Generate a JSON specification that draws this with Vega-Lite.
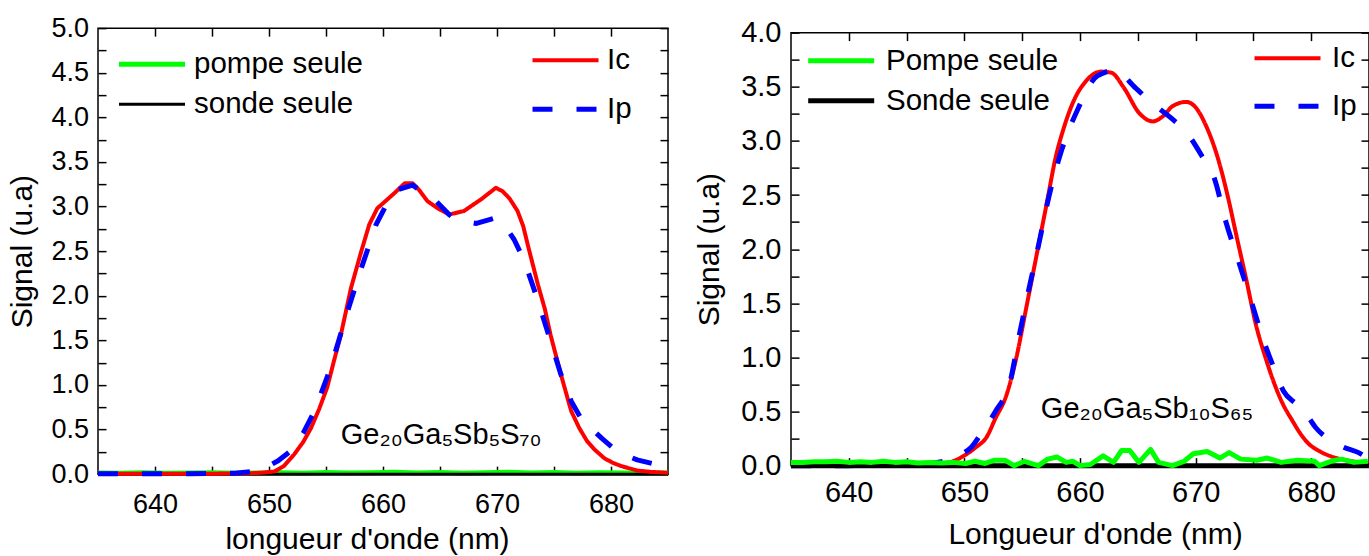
{
  "$schema": "https://vega.github.io/schema/vega-lite/v6.json",
  "background": "white",
  "padding": {"left": 7, "top": 13, "right": 5, "bottom": 0},
  "spacing": 21,
  "center": true,
  "config": {
    "font": "Liberation Sans",
    "view": {"stroke": "black", "strokeWidth": 1.5},
    "axis": {"grid": false, "domain": false, "tickColor": "black", "tickWidth": 1.5, "labelColor": "black", "titleColor": "black", "labelFont": "Liberation Sans", "titleFont": "Liberation Sans", "titleFontWeight": "normal"},
    "legend": {"padding": 0, "labelFont": "Liberation Sans", "labelColor": "black", "titlePadding": 0, "labelLimit": 400}
  },
  "datasets": {
    "L1": [
      {"wl": 635, "sig": 0.012, "serie": "pompe seule"}, {"wl": 637, "sig": 0.01, "serie": "pompe seule"}, {"wl": 639, "sig": 0.015, "serie": "pompe seule"}, {"wl": 641, "sig": 0.01, "serie": "pompe seule"}, {"wl": 643, "sig": 0.012, "serie": "pompe seule"}, {"wl": 645, "sig": 0.015, "serie": "pompe seule"}, {"wl": 647, "sig": 0.01, "serie": "pompe seule"}, {"wl": 649, "sig": 0.012, "serie": "pompe seule"}, {"wl": 651, "sig": 0.015, "serie": "pompe seule"}, {"wl": 653, "sig": 0.01, "serie": "pompe seule"}, {"wl": 655, "sig": 0.018, "serie": "pompe seule"}, {"wl": 657, "sig": 0.012, "serie": "pompe seule"}, {"wl": 659, "sig": 0.015, "serie": "pompe seule"}, {"wl": 661, "sig": 0.02, "serie": "pompe seule"}, {"wl": 663, "sig": 0.012, "serie": "pompe seule"}, {"wl": 665, "sig": 0.018, "serie": "pompe seule"}, {"wl": 667, "sig": 0.01, "serie": "pompe seule"}, {"wl": 669, "sig": 0.015, "serie": "pompe seule"}, {"wl": 671, "sig": 0.02, "serie": "pompe seule"}, {"wl": 673, "sig": 0.012, "serie": "pompe seule"}, {"wl": 675, "sig": 0.018, "serie": "pompe seule"}, {"wl": 677, "sig": 0.01, "serie": "pompe seule"}, {"wl": 679, "sig": 0.015, "serie": "pompe seule"}, {"wl": 681, "sig": 0.012, "serie": "pompe seule"}, {"wl": 683, "sig": 0.01, "serie": "pompe seule"}, {"wl": 685, "sig": 0.012, "serie": "pompe seule"},
      {"wl": 635, "sig": 0, "serie": "sonde seule"}, {"wl": 660, "sig": 0, "serie": "sonde seule"}, {"wl": 685, "sig": 0, "serie": "sonde seule"}
    ],
    "L2": [
      {"wl": 635, "sig": 0.005, "serie": "Ic"}, {"wl": 640, "sig": 0.005, "serie": "Ic"}, {"wl": 645, "sig": 0.005, "serie": "Ic"}, {"wl": 648, "sig": 0.008, "serie": "Ic"}, {"wl": 649.3, "sig": 0.015, "serie": "Ic"}, {"wl": 650.5, "sig": 0.03, "serie": "Ic"}, {"wl": 651.3, "sig": 0.09, "serie": "Ic"}, {"wl": 652.2, "sig": 0.22, "serie": "Ic"}, {"wl": 653.0, "sig": 0.36, "serie": "Ic"}, {"wl": 653.7, "sig": 0.52, "serie": "Ic"}, {"wl": 654.4, "sig": 0.73, "serie": "Ic"}, {"wl": 655.1, "sig": 0.97, "serie": "Ic"}, {"wl": 655.7, "sig": 1.27, "serie": "Ic"}, {"wl": 656.3, "sig": 1.56, "serie": "Ic"}, {"wl": 657.2, "sig": 2.09, "serie": "Ic"}, {"wl": 658.1, "sig": 2.5, "serie": "Ic"}, {"wl": 658.8, "sig": 2.8, "serie": "Ic"}, {"wl": 659.5, "sig": 2.98, "serie": "Ic"}, {"wl": 660.3, "sig": 3.07, "serie": "Ic"}, {"wl": 661.0, "sig": 3.15, "serie": "Ic"}, {"wl": 661.9, "sig": 3.26, "serie": "Ic"}, {"wl": 662.6, "sig": 3.26, "serie": "Ic"}, {"wl": 663.2, "sig": 3.18, "serie": "Ic"}, {"wl": 663.9, "sig": 3.06, "serie": "Ic"}, {"wl": 664.8, "sig": 2.98, "serie": "Ic"}, {"wl": 665.8, "sig": 2.91, "serie": "Ic"}, {"wl": 667.1, "sig": 2.95, "serie": "Ic"}, {"wl": 667.9, "sig": 3.02, "serie": "Ic"}, {"wl": 668.6, "sig": 3.08, "serie": "Ic"}, {"wl": 669.3, "sig": 3.15, "serie": "Ic"}, {"wl": 669.9, "sig": 3.21, "serie": "Ic"}, {"wl": 670.5, "sig": 3.17, "serie": "Ic"}, {"wl": 671.1, "sig": 3.09, "serie": "Ic"}, {"wl": 671.8, "sig": 2.95, "serie": "Ic"}, {"wl": 672.3, "sig": 2.78, "serie": "Ic"}, {"wl": 672.7, "sig": 2.57, "serie": "Ic"}, {"wl": 673.6, "sig": 2.12, "serie": "Ic"}, {"wl": 674.2, "sig": 1.85, "serie": "Ic"}, {"wl": 674.7, "sig": 1.56, "serie": "Ic"}, {"wl": 675.6, "sig": 1.12, "serie": "Ic"}, {"wl": 676.5, "sig": 0.71, "serie": "Ic"}, {"wl": 677.2, "sig": 0.52, "serie": "Ic"}, {"wl": 677.9, "sig": 0.37, "serie": "Ic"}, {"wl": 678.6, "sig": 0.27, "serie": "Ic"}, {"wl": 679.4, "sig": 0.18, "serie": "Ic"}, {"wl": 680.1, "sig": 0.13, "serie": "Ic"}, {"wl": 680.9, "sig": 0.09, "serie": "Ic"}, {"wl": 682.3, "sig": 0.04, "serie": "Ic"}, {"wl": 683.5, "sig": 0.025, "serie": "Ic"}, {"wl": 685, "sig": 0.015, "serie": "Ic"},
      {"wl": 635, "sig": 0.005, "serie": "Ip"}, {"wl": 643, "sig": 0.005, "serie": "Ip"}, {"wl": 647, "sig": 0.01, "serie": "Ip"}, {"wl": 648.5, "sig": 0.03, "serie": "Ip"}, {"wl": 649.8, "sig": 0.08, "serie": "Ip"}, {"wl": 650.8, "sig": 0.15, "serie": "Ip"}, {"wl": 652.1, "sig": 0.28, "serie": "Ip"}, {"wl": 653.0, "sig": 0.46, "serie": "Ip"}, {"wl": 654.0, "sig": 0.71, "serie": "Ip"}, {"wl": 655.4, "sig": 1.19, "serie": "Ip"}, {"wl": 656.8, "sig": 1.79, "serie": "Ip"}, {"wl": 658.1, "sig": 2.31, "serie": "Ip"}, {"wl": 659.4, "sig": 2.8, "serie": "Ip"}, {"wl": 660.3, "sig": 3.02, "serie": "Ip"}, {"wl": 661.3, "sig": 3.19, "serie": "Ip"}, {"wl": 662.6, "sig": 3.24, "serie": "Ip"}, {"wl": 663.5, "sig": 3.16, "serie": "Ip"}, {"wl": 664.5, "sig": 3.08, "serie": "Ip"}, {"wl": 665.8, "sig": 2.91, "serie": "Ip"}, {"wl": 666.5, "sig": 2.85, "serie": "Ip"}, {"wl": 668.2, "sig": 2.81, "serie": "Ip"}, {"wl": 669.8, "sig": 2.87, "serie": "Ip"}, {"wl": 670.7, "sig": 2.78, "serie": "Ip"}, {"wl": 671.5, "sig": 2.63, "serie": "Ip"}, {"wl": 672.4, "sig": 2.39, "serie": "Ip"}, {"wl": 673.6, "sig": 1.94, "serie": "Ip"}, {"wl": 674.7, "sig": 1.49, "serie": "Ip"}, {"wl": 675.6, "sig": 1.12, "serie": "Ip"}, {"wl": 676.5, "sig": 0.82, "serie": "Ip"}, {"wl": 677.3, "sig": 0.64, "serie": "Ip"}, {"wl": 678.2, "sig": 0.52, "serie": "Ip"}, {"wl": 679.2, "sig": 0.4, "serie": "Ip"}, {"wl": 680.2, "sig": 0.29, "serie": "Ip"}, {"wl": 681.3, "sig": 0.21, "serie": "Ip"}, {"wl": 682.3, "sig": 0.16, "serie": "Ip"}, {"wl": 683.6, "sig": 0.12, "serie": "Ip"}, {"wl": 685, "sig": 0.08, "serie": "Ip"}
    ],
    "R1": [
      {"wl": 635, "sig": 0, "serie": "Sonde seule"}, {"wl": 660, "sig": 0, "serie": "Sonde seule"}, {"wl": 685, "sig": 0, "serie": "Sonde seule"},
      {"wl": 635, "sig": 0.03, "serie": "Pompe seule"}, {"wl": 636, "sig": 0.03, "serie": "Pompe seule"}, {"wl": 637, "sig": 0.035, "serie": "Pompe seule"}, {"wl": 638, "sig": 0.035, "serie": "Pompe seule"}, {"wl": 639, "sig": 0.04, "serie": "Pompe seule"}, {"wl": 640, "sig": 0.03, "serie": "Pompe seule"}, {"wl": 641, "sig": 0.035, "serie": "Pompe seule"}, {"wl": 642, "sig": 0.03, "serie": "Pompe seule"}, {"wl": 643, "sig": 0.04, "serie": "Pompe seule"}, {"wl": 644, "sig": 0.03, "serie": "Pompe seule"}, {"wl": 645, "sig": 0.035, "serie": "Pompe seule"}, {"wl": 646, "sig": 0.025, "serie": "Pompe seule"}, {"wl": 647, "sig": 0.03, "serie": "Pompe seule"}, {"wl": 648, "sig": 0.025, "serie": "Pompe seule"}, {"wl": 649, "sig": 0.03, "serie": "Pompe seule"}, {"wl": 650.1, "sig": 0.02, "serie": "Pompe seule"}, {"wl": 650.9, "sig": 0.04, "serie": "Pompe seule"}, {"wl": 651.8, "sig": 0.02, "serie": "Pompe seule"}, {"wl": 652.6, "sig": 0.05, "serie": "Pompe seule"}, {"wl": 653.5, "sig": 0.05, "serie": "Pompe seule"}, {"wl": 654.3, "sig": 0.0, "serie": "Pompe seule"}, {"wl": 655.2, "sig": 0.04, "serie": "Pompe seule"}, {"wl": 656.1, "sig": 0.01, "serie": "Pompe seule"}, {"wl": 656.4, "sig": 0.0, "serie": "Pompe seule"}, {"wl": 657.2, "sig": 0.06, "serie": "Pompe seule"}, {"wl": 658.0, "sig": 0.08, "serie": "Pompe seule"}, {"wl": 658.8, "sig": 0.03, "serie": "Pompe seule"}, {"wl": 659.4, "sig": 0.04, "serie": "Pompe seule"}, {"wl": 660.0, "sig": 0.0, "serie": "Pompe seule"}, {"wl": 660.9, "sig": 0.01, "serie": "Pompe seule"}, {"wl": 662.0, "sig": 0.09, "serie": "Pompe seule"}, {"wl": 662.9, "sig": 0.03, "serie": "Pompe seule"}, {"wl": 663.6, "sig": 0.14, "serie": "Pompe seule"}, {"wl": 664.3, "sig": 0.14, "serie": "Pompe seule"}, {"wl": 665.1, "sig": 0.03, "serie": "Pompe seule"}, {"wl": 666.1, "sig": 0.15, "serie": "Pompe seule"}, {"wl": 666.8, "sig": 0.03, "serie": "Pompe seule"}, {"wl": 668.0, "sig": 0.0, "serie": "Pompe seule"}, {"wl": 669.0, "sig": 0.04, "serie": "Pompe seule"}, {"wl": 669.8, "sig": 0.11, "serie": "Pompe seule"}, {"wl": 671.0, "sig": 0.13, "serie": "Pompe seule"}, {"wl": 672.1, "sig": 0.07, "serie": "Pompe seule"}, {"wl": 672.9, "sig": 0.12, "serie": "Pompe seule"}, {"wl": 673.9, "sig": 0.06, "serie": "Pompe seule"}, {"wl": 675.3, "sig": 0.05, "serie": "Pompe seule"}, {"wl": 676.2, "sig": 0.07, "serie": "Pompe seule"}, {"wl": 677.4, "sig": 0.03, "serie": "Pompe seule"}, {"wl": 678.8, "sig": 0.05, "serie": "Pompe seule"}, {"wl": 680.3, "sig": 0.04, "serie": "Pompe seule"}, {"wl": 680.7, "sig": 0.0, "serie": "Pompe seule"}, {"wl": 681.7, "sig": 0.04, "serie": "Pompe seule"}, {"wl": 682.6, "sig": 0.06, "serie": "Pompe seule"}, {"wl": 683.7, "sig": 0.03, "serie": "Pompe seule"}, {"wl": 684.9, "sig": 0.04, "serie": "Pompe seule"}
    ],
    "R2": [
      {"wl": 635, "sig": 0.01, "serie": "Ic"}, {"wl": 640, "sig": 0.01, "serie": "Ic"}, {"wl": 645, "sig": 0.01, "serie": "Ic"}, {"wl": 647, "sig": 0.012, "serie": "Ic"}, {"wl": 648, "sig": 0.02, "serie": "Ic"}, {"wl": 649.0, "sig": 0.04, "serie": "Ic"}, {"wl": 650.1, "sig": 0.1, "serie": "Ic"}, {"wl": 651.0, "sig": 0.17, "serie": "Ic"}, {"wl": 651.9, "sig": 0.26, "serie": "Ic"}, {"wl": 652.7, "sig": 0.44, "serie": "Ic"}, {"wl": 653.6, "sig": 0.64, "serie": "Ic"}, {"wl": 654.5, "sig": 1.0, "serie": "Ic"}, {"wl": 655.3, "sig": 1.43, "serie": "Ic"}, {"wl": 656.2, "sig": 1.92, "serie": "Ic"}, {"wl": 657.1, "sig": 2.41, "serie": "Ic"}, {"wl": 657.9, "sig": 2.85, "serie": "Ic"}, {"wl": 658.6, "sig": 3.12, "serie": "Ic"}, {"wl": 659.5, "sig": 3.38, "serie": "Ic"}, {"wl": 660.5, "sig": 3.55, "serie": "Ic"}, {"wl": 661.8, "sig": 3.64, "serie": "Ic"}, {"wl": 662.7, "sig": 3.63, "serie": "Ic"}, {"wl": 663.8, "sig": 3.49, "serie": "Ic"}, {"wl": 665.1, "sig": 3.26, "serie": "Ic"}, {"wl": 666.3, "sig": 3.18, "serie": "Ic"}, {"wl": 667.2, "sig": 3.23, "serie": "Ic"}, {"wl": 668.0, "sig": 3.32, "serie": "Ic"}, {"wl": 669.2, "sig": 3.36, "serie": "Ic"}, {"wl": 670.0, "sig": 3.31, "serie": "Ic"}, {"wl": 670.9, "sig": 3.14, "serie": "Ic"}, {"wl": 671.9, "sig": 2.85, "serie": "Ic"}, {"wl": 672.8, "sig": 2.48, "serie": "Ic"}, {"wl": 673.5, "sig": 2.14, "serie": "Ic"}, {"wl": 674.4, "sig": 1.71, "serie": "Ic"}, {"wl": 675.2, "sig": 1.31, "serie": "Ic"}, {"wl": 676.1, "sig": 0.98, "serie": "Ic"}, {"wl": 676.8, "sig": 0.76, "serie": "Ic"}, {"wl": 677.5, "sig": 0.58, "serie": "Ic"}, {"wl": 678.4, "sig": 0.41, "serie": "Ic"}, {"wl": 679.1, "sig": 0.29, "serie": "Ic"}, {"wl": 679.8, "sig": 0.2, "serie": "Ic"}, {"wl": 680.6, "sig": 0.14, "serie": "Ic"}, {"wl": 681.6, "sig": 0.09, "serie": "Ic"}, {"wl": 682.6, "sig": 0.06, "serie": "Ic"}, {"wl": 683.6, "sig": 0.04, "serie": "Ic"}, {"wl": 685, "sig": 0.02, "serie": "Ic"},
      {"wl": 635, "sig": 0.0, "serie": "Ip"}, {"wl": 640, "sig": 0.0, "serie": "Ip"}, {"wl": 645, "sig": 0.005, "serie": "Ip"}, {"wl": 647, "sig": 0.02, "serie": "Ip"}, {"wl": 648.5, "sig": 0.05, "serie": "Ip"}, {"wl": 649.6, "sig": 0.1, "serie": "Ip"}, {"wl": 650.6, "sig": 0.17, "serie": "Ip"}, {"wl": 651.7, "sig": 0.34, "serie": "Ip"}, {"wl": 652.8, "sig": 0.52, "serie": "Ip"}, {"wl": 653.9, "sig": 0.75, "serie": "Ip"}, {"wl": 654.7, "sig": 1.18, "serie": "Ip"}, {"wl": 655.3, "sig": 1.49, "serie": "Ip"}, {"wl": 656.5, "sig": 2.08, "serie": "Ip"}, {"wl": 657.3, "sig": 2.48, "serie": "Ip"}, {"wl": 658.4, "sig": 2.91, "serie": "Ip"}, {"wl": 659.8, "sig": 3.29, "serie": "Ip"}, {"wl": 661.5, "sig": 3.6, "serie": "Ip"}, {"wl": 663.0, "sig": 3.65, "serie": "Ip"}, {"wl": 664.8, "sig": 3.49, "serie": "Ip"}, {"wl": 666.0, "sig": 3.37, "serie": "Ip"}, {"wl": 668.0, "sig": 3.2, "serie": "Ip"}, {"wl": 669.2, "sig": 3.08, "serie": "Ip"}, {"wl": 670.6, "sig": 2.85, "serie": "Ip"}, {"wl": 671.6, "sig": 2.66, "serie": "Ip"}, {"wl": 672.6, "sig": 2.26, "serie": "Ip"}, {"wl": 673.8, "sig": 1.86, "serie": "Ip"}, {"wl": 674.9, "sig": 1.49, "serie": "Ip"}, {"wl": 675.8, "sig": 1.18, "serie": "Ip"}, {"wl": 676.6, "sig": 0.95, "serie": "Ip"}, {"wl": 677.6, "sig": 0.69, "serie": "Ip"}, {"wl": 678.8, "sig": 0.56, "serie": "Ip"}, {"wl": 679.8, "sig": 0.44, "serie": "Ip"}, {"wl": 680.4, "sig": 0.35, "serie": "Ip"}, {"wl": 681.6, "sig": 0.24, "serie": "Ip"}, {"wl": 682.8, "sig": 0.17, "serie": "Ip"}, {"wl": 684.1, "sig": 0.12, "serie": "Ip"}, {"wl": 685, "sig": 0.06, "serie": "Ip"}
    ]
  },
  "hconcat": [
    {
      "width": 570,
      "height": 446,
      "layer": [
        {
          "data": {"name": "L1"},
          "mark": {"type": "line", "strokeJoin": "round"},
          "encoding": {
            "x": {"field": "wl", "type": "quantitative", "scale": {"domain": [635, 685], "nice": false, "zero": false},
              "axis": {"orient": "bottom", "values": [640, 645, 650, 655, 660, 665, 670, 675, 680], "labelExpr": "datum.value % 10 === 0 ? datum.label : ''", "tickSize": -8, "labelPadding": 25, "labelFontSize": 27, "title": "longueur d'onde (nm)", "titleFontSize": 30, "titlePadding": 7, "titleX": 269,
                "encode": {"ticks": {"update": {"y2": {"signal": "datum.value % 10 === 0 ? -8 : -4"}}}}}},
            "y": {"field": "sig", "type": "quantitative", "scale": {"domain": [0, 5], "nice": false},
              "axis": {"orient": "left", "values": [0, 0.25, 0.5, 0.75, 1, 1.25, 1.5, 1.75, 2, 2.25, 2.5, 2.75, 3, 3.25, 3.5, 3.75, 4, 4.25, 4.5, 4.75, 5], "labelExpr": "datum.value % 0.5 === 0 ? format(datum.value, '.1f') : ''", "tickSize": -8, "labelPadding": 17.5, "labelFontSize": 27, "title": "Signal (u.a)", "titleFontSize": 30, "titlePadding": 13,
                "encode": {"ticks": {"update": {"x2": {"signal": "datum.value % 0.5 === 0 ? 8 : 4"}}}}}},
            "color": {"field": "serie", "type": "nominal", "scale": {"domain": ["pompe seule", "sonde seule"], "range": ["#00ff00", "#000000"]},
              "legend": {"orient": "none", "legendX": 18.5, "legendY": 21, "title": null, "symbolType": "stroke", "symbolSize": 4356, "symbolStrokeWidth": 4, "labelFontSize": 29.5, "labelOffset": 6.5, "clipHeight": 30, "rowPadding": 10}},
            "strokeWidth": {"field": "serie", "type": "nominal", "scale": {"domain": ["pompe seule", "sonde seule"], "range": [5, 3]}, "legend": null}
          }
        },
        {
          "data": {"name": "L2"},
          "mark": {"type": "line", "strokeJoin": "round"},
          "encoding": {
            "x": {"field": "wl", "type": "quantitative", "scale": {"domain": [635, 685], "nice": false, "zero": false},
              "axis": {"orient": "top", "values": [640, 645, 650, 655, 660, 665, 670, 675, 680], "labels": false, "title": null, "tickSize": -8,
                "encode": {"ticks": {"update": {"y2": {"signal": "datum.value % 10 === 0 ? 8 : 4"}}}}}},
            "y": {"field": "sig", "type": "quantitative", "scale": {"domain": [0, 5], "nice": false},
              "axis": {"orient": "right", "values": [0, 0.25, 0.5, 0.75, 1, 1.25, 1.5, 1.75, 2, 2.25, 2.5, 2.75, 3, 3.25, 3.5, 3.75, 4, 4.25, 4.5, 4.75, 5], "labels": false, "title": null, "tickSize": -8,
                "encode": {"ticks": {"update": {"x2": {"signal": "datum.value % 0.5 === 0 ? -8 : -4"}}}}}},
            "color": {"field": "serie", "type": "nominal", "scale": {"domain": ["Ic", "Ip"], "range": ["#ff0000", "#0000ff"]},
              "legend": {"orient": "none", "legendX": 432, "legendY": 17, "title": null, "symbolType": "stroke", "symbolSize": 4356, "symbolStrokeWidth": 5, "labelFontSize": 29.5, "labelOffset": 6, "clipHeight": 30, "rowPadding": 19}},
            "strokeDash": {"field": "serie", "type": "nominal", "scale": {"domain": ["Ic", "Ip"], "range": [[1, 0], [20, 24]]}},
            "strokeWidth": {"field": "serie", "type": "nominal", "scale": {"domain": ["Ic", "Ip"], "range": [4, 5]}, "legend": null}
          }
        },
        {
          "data": {"values": [{}]},
          "mark": {"type": "text", "align": "center", "baseline": "alphabetic", "fontSize": 29, "font": "Liberation Sans", "color": "black"},
          "encoding": {
            "x": {"datum": 665.1, "type": "quantitative", "axis": null},
            "y": {"datum": 0.34, "type": "quantitative", "axis": null},
            "text": {"value": "Ge₂₀Ga₅Sb₅S₇₀"}
          }
        }
      ],
      "resolve": {"scale": {"color": "independent", "strokeDash": "independent", "strokeWidth": "independent"}, "axis": {"x": "independent", "y": "independent"}}
    },
    {
      "width": 578,
      "height": 433,
      "layer": [
        {
          "data": {"name": "R2"},
          "mark": {"type": "line", "strokeJoin": "round", "interpolate": "monotone"},
          "encoding": {
            "x": {"field": "wl", "type": "quantitative", "scale": {"domain": [635, 685], "nice": false, "zero": false},
              "axis": {"orient": "top", "values": [640, 645, 650, 655, 660, 665, 670, 675, 680], "labels": false, "title": null, "tickSize": -8,
                "encode": {"ticks": {"update": {"y2": {"signal": "datum.value % 10 === 0 ? 8 : 4"}}}}}},
            "y": {"field": "sig", "type": "quantitative", "scale": {"domain": [0, 4], "nice": false},
              "axis": {"orient": "right", "values": [0, 0.25, 0.5, 0.75, 1, 1.25, 1.5, 1.75, 2, 2.25, 2.5, 2.75, 3, 3.25, 3.5, 3.75, 4], "labels": false, "title": null, "tickSize": -8,
                "encode": {"ticks": {"update": {"x2": {"signal": "datum.value % 0.5 === 0 ? -8 : -4"}}}}}},
            "color": {"field": "serie", "type": "nominal", "scale": {"domain": ["Ic", "Ip"], "range": ["#ff0000", "#0000ff"]},
              "legend": {"orient": "none", "legendX": 461, "legendY": 10.7, "title": null, "symbolType": "stroke", "symbolSize": 4356, "symbolStrokeWidth": 5, "labelFontSize": 29.5, "labelOffset": 9, "clipHeight": 30, "rowPadding": 18}},
            "strokeDash": {"field": "serie", "type": "nominal", "scale": {"domain": ["Ic", "Ip"], "range": [[1, 0], [20, 24]]}},
            "strokeWidth": {"field": "serie", "type": "nominal", "scale": {"domain": ["Ic", "Ip"], "range": [4, 5]}, "legend": null}
          }
        },
        {
          "data": {"name": "R1"},
          "mark": {"type": "line", "strokeJoin": "round"},
          "encoding": {
            "x": {"field": "wl", "type": "quantitative", "scale": {"domain": [635, 685], "nice": false, "zero": false},
              "axis": {"orient": "bottom", "values": [640, 645, 650, 655, 660, 665, 670, 675, 680], "labelExpr": "datum.value % 10 === 0 ? datum.label : ''", "tickSize": -8, "labelPadding": 21, "labelFontSize": 29, "title": "Longueur d'onde (nm)", "titleFontSize": 30, "titlePadding": 12, "titleX": 304,
                "encode": {"ticks": {"update": {"y2": {"signal": "datum.value % 10 === 0 ? -8 : -4"}}}}}},
            "y": {"field": "sig", "type": "quantitative", "scale": {"domain": [0, 4], "nice": false},
              "axis": {"orient": "left", "values": [0, 0.25, 0.5, 0.75, 1, 1.25, 1.5, 1.75, 2, 2.25, 2.5, 2.75, 3, 3.25, 3.5, 3.75, 4], "labelExpr": "datum.value % 0.5 === 0 ? format(datum.value, '.1f') : ''", "tickSize": -8, "labelPadding": 18, "labelFontSize": 29, "title": "Signal (u.a)", "titleFontSize": 30, "titlePadding": 16.5,
                "encode": {"ticks": {"update": {"x2": {"signal": "datum.value % 0.5 === 0 ? 8 : 4"}}}}}},
            "color": {"field": "serie", "type": "nominal", "scale": {"domain": ["Pompe seule", "Sonde seule"], "range": ["#00ff00", "#000000"]},
              "legend": {"orient": "none", "legendX": 14.7, "legendY": 13, "title": null, "symbolType": "stroke", "symbolSize": 4356, "symbolStrokeWidth": 5, "labelFontSize": 29.5, "labelOffset": 9.3, "clipHeight": 30, "rowPadding": 10}},
            "strokeWidth": {"field": "serie", "type": "nominal", "scale": {"domain": ["Pompe seule", "Sonde seule"], "range": [5, 5]}, "legend": null}
          }
        },
        {
          "data": {"values": [{}]},
          "mark": {"type": "text", "align": "center", "baseline": "alphabetic", "fontSize": 29, "font": "Liberation Sans", "color": "black"},
          "encoding": {
            "x": {"datum": 665.8, "type": "quantitative", "axis": null},
            "y": {"datum": 0.44, "type": "quantitative", "axis": null},
            "text": {"value": "Ge₂₀Ga₅Sb₁₀S₆₅"}
          }
        }
      ],
      "resolve": {"scale": {"color": "independent", "strokeDash": "independent", "strokeWidth": "independent"}, "axis": {"x": "independent", "y": "independent"}}
    }
  ]
}
